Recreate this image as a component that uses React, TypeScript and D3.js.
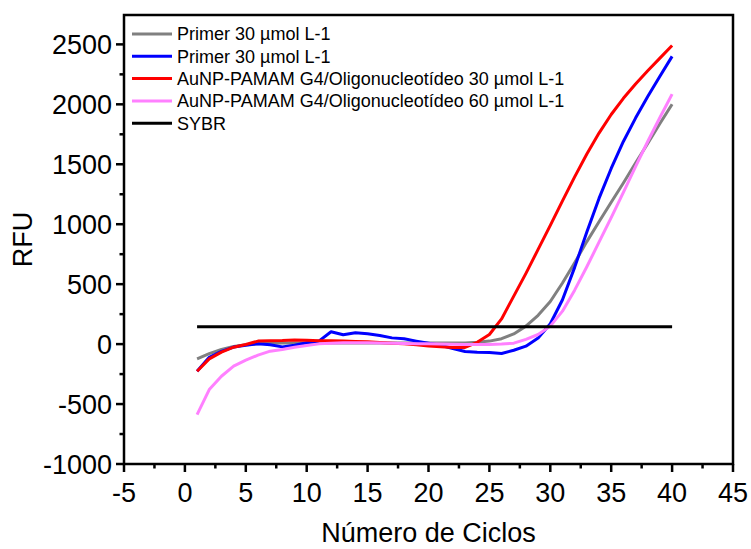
import React from "react";
import * as d3 from "d3";

const cycles = d3.range(1, 41);
const primerGray = [-123, -79, -45, -20, -5, 3, 8, 10, 10, 10, 10, 10, 10, 10, 10, 10, 10, 10, 10, 10, 10, 10, 10, 15, 25, 45, 85, 150, 240, 355, 510, 679, 855, 1020, 1183, 1344, 1511, 1673, 1840, 2001];
const primerBlue = [-226, -110, -60, -25, -10, 2, -5, -23, -9, 11, 25, 103, 78, 94, 86, 72, 52, 44, 25, 8, -9, -37, -62, -68, -70, -78, -51, -17, 50, 170, 370, 640, 935, 1215, 1465, 1690, 1885, 2065, 2235, 2400];
const aunp30 = [-226, -123, -67, -26, -3, 25, 28, 30, 35, 32, 28, 28, 25, 22, 19, 14, 8, 2, -5, -15, -22, -28, -28, 15, 80, 210, 400, 590, 790, 990, 1195, 1395, 1585, 1760, 1915, 2050, 2170, 2280, 2385, 2490];
const aunp60 = [-588, -379, -268, -184, -134, -92, -59, -45, -26, -12, 2, 8, 12, 12, 12, 10, 8, 5, 3, 2, 0, -2, -3, -3, -3, 0, 8, 40, 80, 150, 275, 450, 645, 850, 1055, 1265, 1480, 1690, 1890, 2085];
const sybr = cycles.map(() => 145);

const seriesNames = [
  "Primer 30 µmol L-1",
  "Primer 30 µmol L-1",
  "AuNP-PAMAM G4/Oligonucleotídeo 30 µmol L-1",
  "AuNP-PAMAM G4/Oligonucleotídeo 60 µmol L-1",
  "SYBR",
];
const seriesColors = ["#808080", "#0000ff", "#ff0000", "#ff80ff", "#000000"];
const seriesValues = [primerGray, primerBlue, aunp30, aunp60, sybr];

const xTicks = [-5, 0, 5, 10, 15, 20, 25, 30, 35, 40, 45];
const yTicks = [-1000, -500, 0, 500, 1000, 1500, 2000, 2500];

export default function App() {
  const W = 751, H = 549;
  const left = 124, right = 733, top = 15, bottom = 464;
  const x = d3.scaleLinear().domain([-5, 45]).range([left, right]);
  const y = d3.scaleLinear().domain([-1000, 2745]).range([bottom, top]);
  const line = d3
    .line<number>()
    .x((_, i) => x(cycles[i]))
    .y((d) => y(d));
  const xMinor = d3.range(-2.5, 45, 5);
  const yMinor = d3.range(-750, 2745, 500);
  const font = "Arial, 'Liberation Sans', sans-serif";
  return (
    <svg width={W} height={H} style={{ position: "absolute", left: 0, top: 0 }} fontFamily={font}>
      <rect width={W} height={H} fill="#fff" />
      {seriesValues.map((vals, k) => (
        <path key={k} d={line(vals) || ""} fill="none" stroke={seriesColors[k]} strokeWidth={3} strokeLinejoin="round" />
      ))}
      <rect x={left} y={top} width={right - left} height={bottom - top} fill="none" stroke="#000" strokeWidth={2.5} />
      {xTicks.map((t) => (
        <g key={"xt" + t}>
          <line x1={x(t)} x2={x(t)} y1={bottom} y2={bottom + 8} stroke="#000" strokeWidth={2.5} />
          <text x={x(t)} y={502} textAnchor="middle" fontSize={27}>{t}</text>
        </g>
      ))}
      {xMinor.map((t) => (
        <line key={"xm" + t} x1={x(t)} x2={x(t)} y1={bottom} y2={bottom + 4.5} stroke="#000" strokeWidth={2.5} />
      ))}
      {yTicks.map((t) => (
        <g key={"yt" + t}>
          <line x1={left - 8} x2={left} y1={y(t)} y2={y(t)} stroke="#000" strokeWidth={2.5} />
          <text x={112} y={y(t)} dy="0.36em" textAnchor="end" fontSize={27}>{t}</text>
        </g>
      ))}
      {yMinor.map((t) => (
        <line key={"ym" + t} x1={left - 4.5} x2={left} y1={y(t)} y2={y(t)} stroke="#000" strokeWidth={2.5} />
      ))}
      <text x={(left + right) / 2} y={542} textAnchor="middle" fontSize={27}>Número de Ciclos</text>
      <text transform={`translate(32, ${(top + bottom) / 2}) rotate(-90)`} textAnchor="middle" fontSize={27}>RFU</text>
      {seriesNames.map((n, k) => {
        const ly = 34 + k * 22.3;
        return (
          <g key={"lg" + k}>
            <line x1={132} x2={172} y1={ly} y2={ly} stroke={seriesColors[k]} strokeWidth={3} />
            <text x={177} y={ly} dy="0.36em" fontSize={18}>{n}</text>
          </g>
        );
      })}
    </svg>
  );
}
